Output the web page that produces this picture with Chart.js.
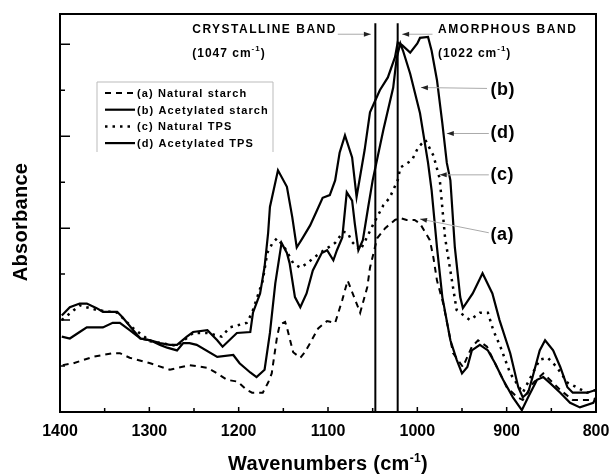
<!DOCTYPE html>
<html>
<head>
<meta charset="utf-8">
<script src="https://cdn.jsdelivr.net/npm/chart.js@4.4.0/dist/chart.umd.min.js"></script>
<style>
  html, body { margin: 0; padding: 0; background: #fff; }
</style>
</head>
<body>
<canvas id="canvas" width="612" height="476"></canvas>
<script>
var FONT = '"Liberation Sans", Arial, sans-serif';

// ticks
var xTicks = [800, 900, 1000, 1100, 1200, 1300, 1400];
var xMinor = [850, 950, 1050, 1150, 1250, 1350];
var yTicks = [0, 1, 2, 3, 4];
var yMinor = [0.5, 1.5, 2.5, 3.5];

var seriesNames = ['(a) Natural starch', '(b) Acetylated starch', '(c) Natural TPS', '(d) Acetylated TPS'];

// (a) natural starch - dashed
var aWave = [1397,1385,1363,1352,1341,1333,1322,1299,1277,1255,1235,1224,1213,1201,1191,1185,1173,1167,1163,1157,
  1154,1148,1146,1139,1131,1126,1120,1111,1101,1092,1084,1078,1064,1056,1053,1045,1036,1025,1019,1012,
  1003,997,986,982,978,971,960,949,939,932,922,911,900,888,882,870,859,840,826,803,800];
var aAbs = [0.51,0.53,0.60,0.62,0.64,0.64,0.59,0.53,0.46,0.51,0.48,0.42,0.35,0.33,0.24,0.21,0.21,0.32,0.42,0.82,
  0.95,0.98,0.92,0.65,0.59,0.65,0.75,0.91,0.99,0.97,1.22,1.43,1.08,1.36,1.57,1.89,2.00,2.09,2.11,2.09,
  2.09,2.05,1.87,1.68,1.43,1.18,0.64,0.49,0.71,0.78,0.71,0.49,0.27,0.16,0.13,0.32,0.42,0.24,0.13,0.13,0.15];

// (b) acetylated starch - solid
var bWave = [1398,1389,1378,1370,1352,1341,1333,1322,1310,1299,1288,1280,1269,1262,1255,1247,1224,1206,1199,1187,
  1180,1171,1165,1159,1152,1146,1143,1137,1131,1124,1117,1107,1101,1094,1090,1084,1079,1073,1070,1066,
  1061,1055,1050,1038,1027,1023,1019,1016,1008,997,988,984,978,972,963,956,950,944,939,930,
  921,913,904,893,883,876,866,859,852,840,829,818,803,800];
var bAbs = [0.82,0.80,0.87,0.92,0.92,0.97,0.97,0.89,0.80,0.78,0.73,0.70,0.67,0.75,0.75,0.73,0.60,0.62,0.53,0.43,
  0.38,0.46,0.86,1.40,1.84,1.73,1.62,1.25,1.14,1.29,1.54,1.73,1.76,1.65,1.76,1.90,2.39,2.30,2.05,1.76,
  1.87,2.23,2.52,3.07,3.53,3.86,4.01,3.93,3.68,3.25,2.71,2.41,1.79,1.25,0.78,0.57,0.42,0.49,0.67,0.73,
  0.67,0.53,0.35,0.16,0.02,0.16,0.35,0.38,0.32,0.21,0.10,0.05,0.10,0.16];

// (c) natural TPS - dotted
var cWave = [1398,1378,1359,1336,1318,1299,1269,1251,1235,1219,1210,1191,1185,1173,1168,1162,1157,1148,1139,1131,
  1123,1117,1109,1092,1083,1078,1073,1064,1059,1050,1038,1031,1022,1019,1006,999,991,982,975,969,
  956,941,930,921,915,907,896,882,871,863,854,844,832,810,800];
var cAbs = [1.00,1.16,1.11,1.08,0.91,0.77,0.72,0.86,0.86,0.82,0.92,0.97,1.08,1.43,1.73,1.84,1.89,1.78,1.62,1.57,
  1.62,1.67,1.73,1.84,1.96,1.95,1.85,1.76,1.85,2.03,2.25,2.33,2.52,2.66,2.74,2.88,2.96,2.79,2.54,1.90,
  1.11,1.00,1.08,1.08,0.89,0.71,0.42,0.21,0.42,0.57,0.59,0.49,0.32,0.21,0.24];

// (d) acetylated TPS - solid
var dWave = [1398,1389,1378,1370,1359,1352,1336,1330,1318,1310,1299,1288,1277,1269,1258,1251,1235,1224,1218,1202,
  1187,1184,1176,1171,1167,1165,1156,1146,1140,1135,1128,1120,1112,1106,1098,1092,1087,1081,1073,1068,
  1059,1053,1042,1033,1025,1022,1017,1008,1000,997,988,984,978,972,967,963,958,952,949,938,
  927,916,908,896,887,882,876,871,863,857,848,840,832,826,810,800];
var dAbs = [1.05,1.14,1.18,1.18,1.13,1.09,1.09,1.03,0.89,0.80,0.78,0.75,0.73,0.73,0.82,0.87,0.89,0.78,0.71,0.86,
  0.87,1.08,1.29,1.58,1.95,2.23,2.63,2.45,2.12,1.79,1.90,2.03,2.20,2.33,2.36,2.52,2.82,3.01,2.77,2.34,
  2.85,3.26,3.50,3.64,3.86,4.02,3.99,3.91,4.01,4.07,4.08,3.93,3.61,3.14,2.71,2.52,1.79,1.25,1.13,1.29,
  1.51,1.29,1.00,0.64,0.27,0.16,0.21,0.38,0.67,0.78,0.67,0.49,0.27,0.21,0.21,0.24];

// band marker lines
var bandWave = [1047, 1022];
var bandTop = 4.23;

function pts(xs, ys) {
  return xs.map(function(x, i) { return {x: x, y: ys[i]}; });
}

function drawParts(ctx, parts, x, y, spacing, align) {
  ctx.save();
  ctx.letterSpacing = spacing + 'px';
  ctx.textBaseline = 'alphabetic';
  ctx.textAlign = 'left';
  ctx.fillStyle = '#000';
  var w = 0;
  parts.forEach(function(p) {
    ctx.font = 'bold ' + p[1] + 'px ' + FONT;
    w += ctx.measureText(p[0]).width;
  });
  var cx = align === 'center' ? x - w / 2 : x;
  parts.forEach(function(p) {
    ctx.font = 'bold ' + p[1] + 'px ' + FONT;
    ctx.fillText(p[0], cx, y - (p[2] || 0));
    cx += ctx.measureText(p[0]).width;
  });
  ctx.restore();
}

function arrow(ctx, x1, y1, x2, y2) {
  ctx.save();
  ctx.strokeStyle = '#aaa';
  ctx.lineWidth = 1;
  ctx.beginPath();
  ctx.moveTo(x1, y1);
  ctx.lineTo(x2, y2);
  ctx.stroke();
  var ang = Math.atan2(y2 - y1, x2 - x1);
  ctx.translate(x2, y2);
  ctx.rotate(ang);
  ctx.fillStyle = '#222';
  ctx.beginPath();
  ctx.moveTo(0, 0);
  ctx.lineTo(-7, -2.5);
  ctx.lineTo(-7, 2.5);
  ctx.closePath();
  ctx.fill();
  ctx.restore();
}

var extras = {
  id: 'extras',
  afterDraw: function(chart) {
    var ctx = chart.ctx, a = chart.chartArea;
    var xs = chart.scales.x, ys = chart.scales.y;
    var X = function(v) { return xs.getPixelForValue(v); };
    var Y = function(v) { return ys.getPixelForValue(v); };

    // frame
    ctx.save();
    ctx.strokeStyle = '#000';
    ctx.lineWidth = 2;
    ctx.strokeRect(a.left, a.top, a.right - a.left, a.bottom - a.top);

    // inward ticks
    ctx.lineWidth = 1.5;
    ctx.beginPath();
    xTicks.forEach(function(v) { ctx.moveTo(X(v), a.bottom); ctx.lineTo(X(v), a.bottom - 5); });
    xMinor.forEach(function(v) { ctx.moveTo(X(v), a.bottom); ctx.lineTo(X(v), a.bottom - 4); });
    yTicks.forEach(function(v) { ctx.moveTo(a.left, Y(v)); ctx.lineTo(a.left + 10, Y(v)); });
    yMinor.forEach(function(v) { ctx.moveTo(a.left, Y(v)); ctx.lineTo(a.left + 5, Y(v)); });
    ctx.stroke();
    ctx.restore();

    // axis titles
    drawParts(ctx, [['Wavenumbers (cm', 20], ['-1', 12, 8], [')', 20]], (a.left + a.right) / 2, 470, 0.3, 'center');
    ctx.save();
    ctx.translate(27, 222);
    ctx.rotate(-Math.PI / 2);
    drawParts(ctx, [['Absorbance', 20]], 0, 0, 0.3, 'center');
    ctx.restore();

    // band annotations
    drawParts(ctx, [['CRYSTALLINE BAND', 12]], X(1252), Y(4.12), 1.5);
    drawParts(ctx, [['(1047 cm', 12], ['-1', 8, 6], [')', 12]], X(1252), Y(3.86), 1);
    drawParts(ctx, [['AMORPHOUS BAND', 12]], X(977), Y(4.12), 1.6);
    drawParts(ctx, [['(1022 cm', 12], ['-1', 8, 6], [')', 12]], X(977), Y(3.86), 1);
    arrow(ctx, X(1089), Y(4.11), X(1052), Y(4.11));
    arrow(ctx, X(983), Y(4.11), X(1017), Y(4.11));

    // curve labels
    drawParts(ctx, [['(b)', 18]], X(918), Y(3.45), 0.5);
    drawParts(ctx, [['(d)', 18]], X(918), Y(2.98), 0.5);
    drawParts(ctx, [['(c)', 18]], X(918), Y(2.52), 0.5);
    drawParts(ctx, [['(a)', 18]], X(918), Y(1.87), 0.5);
    arrow(ctx, X(922), Y(3.52), X(996), Y(3.53));
    arrow(ctx, X(920), Y(3.03), X(967), Y(3.03));
    arrow(ctx, X(920), Y(2.58), X(975), Y(2.58));
    arrow(ctx, X(920), Y(1.95), X(997), Y(2.10));

    // legend box
    var lx = a.left + 37, ly = a.top + 68, lw = 176, lh = 70;
    ctx.save();
    ctx.strokeStyle = '#bbb';
    ctx.lineWidth = 1;
    ctx.beginPath();
    ctx.moveTo(lx, ly + lh);
    ctx.lineTo(lx, ly);
    ctx.lineTo(lx + lw, ly);
    ctx.lineTo(lx + lw, ly + lh);
    ctx.stroke();
    ctx.fillStyle = '#fff';
    ctx.fillRect(lx + 1, ly + 1, lw - 2, lh - 1);
    ctx.restore();
    var order = [0, 1, 2, 3];
    order.forEach(function(i, r) {
      var ds = chart.data.datasets[i];
      var ry = ly + 11 + r * 16.7;
      ctx.save();
      ctx.strokeStyle = '#000';
      ctx.lineWidth = ds.borderWidth;
      ctx.setLineDash(ds.borderDash || []);
      ctx.beginPath();
      ctx.moveTo(lx + 8, ry);
      ctx.lineTo(lx + 38, ry);
      ctx.stroke();
      ctx.restore();
      drawParts(ctx, [[seriesNames[i], 11]], lx + 40, ry + 4, 1.1);
    });
  }
};

function series(label, xs, ys, dash, width) {
  return {
    label: label,
    data: pts(xs, ys),
    showLine: true,
    borderColor: '#000',
    backgroundColor: '#000',
    borderWidth: width,
    borderDash: dash,
    pointRadius: 0,
    tension: 0
  };
}

var datasets = [
  series(seriesNames[0], aWave, aAbs, [6, 5], 2),
  series(seriesNames[1], bWave, bAbs, [], 2.2),
  series(seriesNames[2], cWave, cAbs, [2.5, 5], 2.5),
  series(seriesNames[3], dWave, dAbs, [], 2.2)
];
bandWave.forEach(function(w) {
  datasets.push(series('band ' + w, [w, w], [0, bandTop], [], 2));
});

window.onload = function() {
  Chart.defaults.font.family = FONT;
  window.myChart = new Chart(document.getElementById('canvas'), {
    type: 'scatter',
    data: { datasets: datasets },
    plugins: [extras],
    options: {
      responsive: false,
      animation: false,
      layout: { padding: { top: 14, right: 16, left: 0, bottom: 0 } },
      plugins: { legend: { display: false }, tooltip: { enabled: false } },
      scales: {
        x: {
          type: 'linear',
          reverse: true,
          min: 800,
          max: 1400,
          afterFit: function(s) { s.height = 64; },
          afterBuildTicks: function(s) { s.ticks = xTicks.map(function(v) { return {value: v}; }); },
          grid: { display: false, drawTicks: false },
          border: { display: false },
          ticks: {
            color: '#000', padding: 10, maxRotation: 0,
            font: { size: 16, weight: 'bold' },
            callback: function(v) { return String(v); }
          }
        },
        y: {
          type: 'linear',
          min: 0,
          max: 4.33,
          afterFit: function(s) { s.width = 60; },
          grid: { display: false, drawTicks: false },
          border: { display: false },
          ticks: { display: false }
        }
      }
    }
  });
};
</script>
</body>
</html>
